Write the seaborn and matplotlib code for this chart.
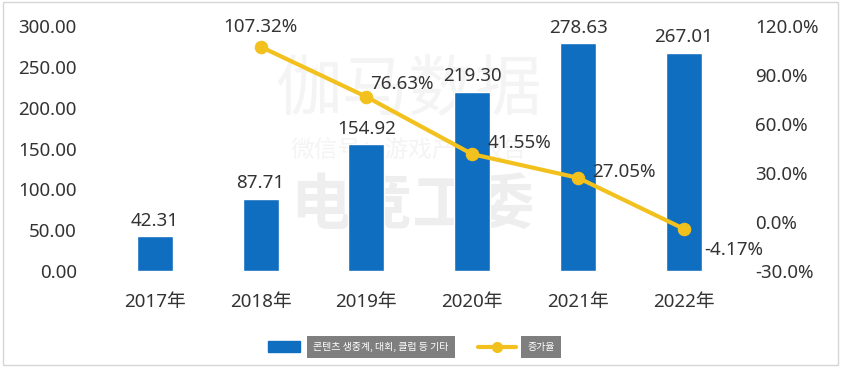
import numpy as np
import pandas as pd
import matplotlib
matplotlib.use("Agg")
import matplotlib.pyplot as plt
from matplotlib.patches import Rectangle
from matplotlib.lines import Line2D
import seaborn as sns

# ─── Data ───────────────────────────────────────────────────────────────────
years = ["2017年", "2018年", "2019年", "2020年", "2021年", "2022年"]
revenue = [42.31, 87.71, 154.92, 219.30, 278.63, 267.01]
growth_years = ["2018年", "2019年", "2020年", "2021年", "2022年"]
growth = [107.32, 76.63, 41.55, 27.05, -4.17]
bar_label = "콘텐츠 생중계, 대회, 클럽 등 기타"
line_label = "증가율"

BAR_COLOR = "#0f6ec0"
LINE_COLOR = "#f2c11d"
TEXT_COLOR = "#333333"
FS = 13.5

# ─── Style ──────────────────────────────────────────────────────────────────
sns.set_theme(style="white")
plt.rcParams["font.family"] = ["Noto Sans", "Noto Sans CJK SC", "Noto Sans CJK KR", "DejaVu Sans"]

fig = plt.figure(figsize=(8.42, 3.67), dpi=100)
ax = fig.add_axes([0.121, 1 - 271 / 367, 0.754, 245 / 367])

# watermark (very faint, behind everything)
wm = dict(ha="center", va="center", zorder=-1, family=["Noto Sans CJK SC"])
fig.text(0.485, 0.755, "伽马数据", fontsize=48, color="#f4f4f4", **wm)
fig.text(0.485, 0.59, "微信号：游戏产业报告", fontsize=17, color="#f4f4f4", **wm)
fig.text(0.49, 0.44, "电竞工委", fontsize=44, color="#eeeeee", fontweight="bold", style="italic", **wm)

df = pd.DataFrame({"year": years, "revenue": revenue})
sns.barplot(data=df, x="year", y="revenue", color=BAR_COLOR, saturation=1,
            width=0.34, ax=ax, zorder=2)
ax.bar_label(ax.containers[0], labels=[f"{v:.2f}" for v in revenue],
             padding=5, fontsize=FS, color=TEXT_COLOR)

ax.set_ylim(0, 300)
ax.set_xlim(-0.5, len(years) - 0.5)
ax.set_yticks(np.arange(0, 301, 50))
ax.set_yticklabels([f"{v:.2f}" for v in np.arange(0, 301, 50)])
ax.set_xlabel("")
ax.set_ylabel("")
ax.tick_params(axis="y", length=0, pad=18, labelsize=FS, labelcolor=TEXT_COLOR)
ax.tick_params(axis="x", length=0, pad=16, labelsize=FS, labelcolor=TEXT_COLOR)
sns.despine(ax=ax, left=True, bottom=True)
ax.patch.set_alpha(0)

# growth line on secondary axis
ax2 = ax.twinx()
gx = [years.index(y) for y in growth_years]
sns.lineplot(x=gx, y=growth, ax=ax2, color=LINE_COLOR, linewidth=3,
             marker="o", markersize=9, markeredgecolor=LINE_COLOR, zorder=3)
ax2.set_ylim(-30, 120)
ax2.set_yticks(np.arange(-30, 121, 30))
ax2.set_yticklabels([f"{v:.1f}%" for v in np.arange(-30, 121, 30)])
ax2.tick_params(axis="y", length=0, pad=13, labelsize=FS, labelcolor=TEXT_COLOR)
ax2.set_xlim(-0.5, len(years) - 0.5)
for s in ax2.spines.values():
    s.set_visible(False)

offsets = [(0, 8, "center", "bottom"), (3, 9, "left", "center"), (11, 8, "left", "center"),
           (10, 4.5, "left", "center"), (15, -15, "left", "center")]
for x, v, (dx, dy, ha, va) in zip(gx, growth, offsets):
    ax2.annotate(f"{v:.2f}%", (x, v), xytext=(dx, dy), textcoords="offset points",
                 ha=ha, va=va, fontsize=FS, color=TEXT_COLOR)

# ─── Legend (boxed labels) ──────────────────────────────────────────────────
ly = 1 - 347 / 367
fig.add_artist(Rectangle((268 / 842, 1 - 352 / 367), 32 / 842, 11 / 367,
                         transform=fig.transFigure, color=BAR_COLOR))
fig.text(381 / 842, ly, bar_label, fontsize=7.2, color="white", ha="center", va="center",
         family=["Noto Sans CJK KR"],
         bbox=dict(boxstyle="square,pad=0.6", facecolor="#7f7f7f", edgecolor="none"))
fig.add_artist(Line2D([478 / 842, 516 / 842], [ly, ly], transform=fig.transFigure,
                      color=LINE_COLOR, linewidth=3))
fig.add_artist(Line2D([497 / 842], [ly], transform=fig.transFigure,
                      color=LINE_COLOR, marker="o", markersize=7, linestyle="none"))
fig.text(541 / 842, ly, line_label, fontsize=7.2, color="white", ha="center", va="center",
         family=["Noto Sans CJK KR"],
         bbox=dict(boxstyle="square,pad=0.6", facecolor="#7f7f7f", edgecolor="none"))

# outer frame
fig.add_artist(Rectangle((0.003, 0.005), 0.992, 0.99, transform=fig.transFigure,
                         fill=False, edgecolor="#d6d6d6", linewidth=1))

fig.savefig("out.png", dpi=100)
